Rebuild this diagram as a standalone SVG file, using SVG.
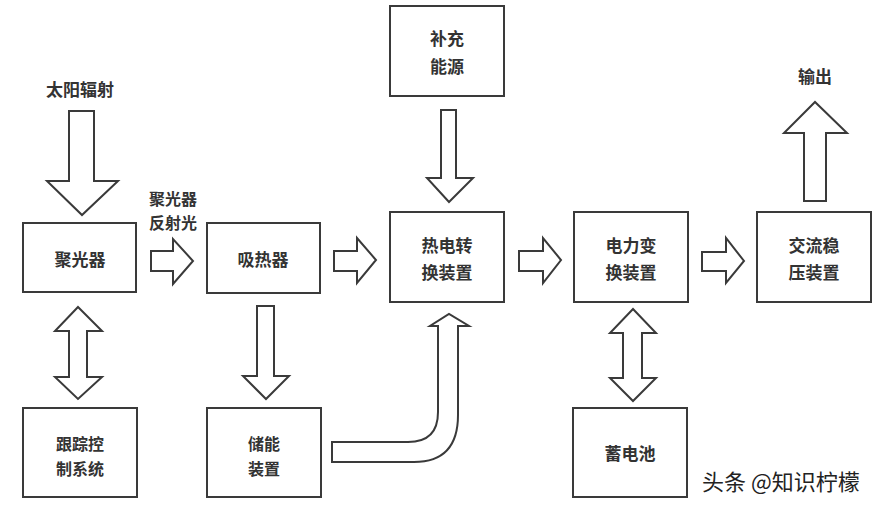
<svg xmlns="http://www.w3.org/2000/svg" width="879" height="507" viewBox="0 0 879 507">
<style>
.box{fill:#fff;stroke:#3a3a3a;stroke-width:2}
.arr{fill:#fff;stroke:#3a3a3a;stroke-width:2;stroke-linejoin:miter}
.t{font-family:"Noto Sans CJK SC","Noto Sans",sans-serif;font-size:17px;font-weight:bold;fill:#333;text-anchor:middle;dominant-baseline:central}
.s{font-size:16px}
.wm{font-family:"Noto Sans CJK SC","Noto Sans",sans-serif;font-size:22px;fill:#222;stroke:#fff;stroke-width:3;paint-order:stroke;dominant-baseline:central}
</style>
<rect width="879" height="507" fill="#fff"/>
<g id="connectors">
<path class="arr" d="M69,111 H94 V181 H118 L82,215 L47,181 H69 Z"/>
<path class="arr" d="M151,251 H173 V239 L193,261 L173,284 V271 H151 Z"/>
<path class="arr" d="M334,251 H357 V238 L376,260 L357,283 V271 H334 Z"/>
<path class="arr" d="M519,251 H543 V238 L561,260 L543,283 V271 H519 Z"/>
<path class="arr" d="M702,252 H726 V238 L744,261 L726,283 V271 H702 Z"/>
<path class="arr" d="M804,201 V133 H784 L815,102 L847,133 H826 V201 Z"/>
<path class="arr" d="M441,110 H456 V178 H473 L449,202 L427,178 H441 Z"/>
<path class="arr" d="M78,307 L102,331 H87 V377 H102 L78,399 L55,377 H69 V331 H55 Z"/>
<path class="arr" d="M257,306 H274 V376 H289 L266,399 L243,376 H257 Z"/>
<path class="arr" d="M633,309 L656,333 H642 V378 H656 L633,401 L610,378 H623 V333 H610 Z"/>
<path class="arr" d="M332,442 H408 Q438,442 438,412 V326 H430 L449,314 L469,326 H458 V415 Q458,462 414,462 H332 Z"/>
</g>
<g id="n_concentrator"><rect class="box" x="23" y="223" width="113" height="69"/><text class="t" x="80" y="258">聚光器</text></g>
<g id="n_absorber"><rect class="box" x="207" y="223" width="113" height="70"/><text class="t" x="263" y="258">吸热器</text></g>
<g id="n_thermo"><rect class="box" x="390" y="212" width="114" height="90"/><text class="t" x="447" y="244">热电转</text><text class="t" x="447" y="271">换装置</text></g>
<g id="n_supp"><rect class="box" x="390" y="6" width="114" height="90"/><text class="t" x="447" y="37">补充</text><text class="t" x="447" y="65">能源</text></g>
<g id="n_power"><rect class="box" x="574" y="212" width="114" height="90"/><text class="t" x="631" y="244">电力变</text><text class="t" x="631" y="271">换装置</text></g>
<g id="n_ac"><rect class="box" x="757" y="212" width="114" height="90"/><text class="t" x="814" y="244">交流稳</text><text class="t" x="814" y="271">压装置</text></g>
<g id="n_tracking"><rect class="box" x="23" y="408" width="114" height="89"/><text class="t s" x="80" y="443">跟踪控</text><text class="t s" x="80" y="468">制系统</text></g>
<g id="n_storage"><rect class="box" x="207" y="408" width="114" height="89"/><text class="t s" x="264" y="443">储能</text><text class="t s" x="264" y="468">装置</text></g>
<g id="n_battery"><rect class="box" x="573" y="408" width="114" height="89"/><text class="t" x="630" y="452">蓄电池</text></g>
<g id="labels">
<text class="t" x="80" y="88">太阳辐射</text>
<text class="t s" x="173" y="198">聚光器</text>
<text class="t s" x="173" y="222">反射光</text>
<text class="t" x="815" y="75">输出</text>
</g>
<text class="wm" x="702" y="480">头条 @知识柠檬</text>
</svg>
